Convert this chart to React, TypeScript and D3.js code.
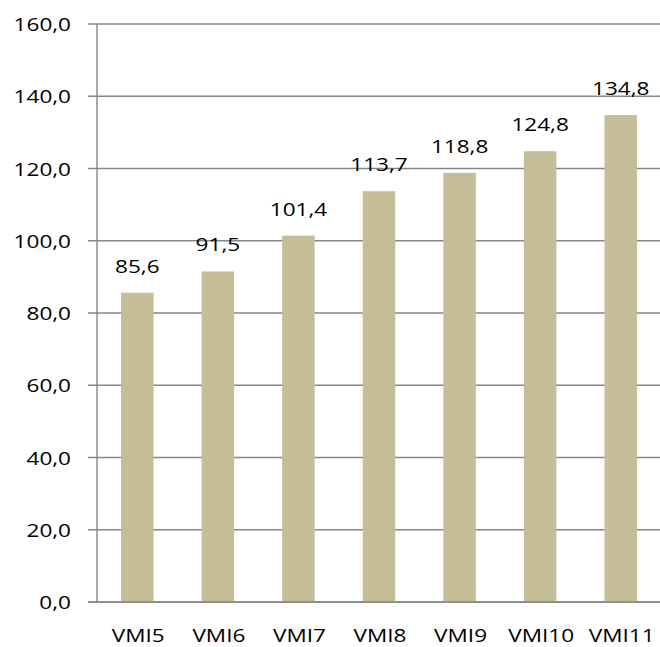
import React from "react";
import * as d3 from "d3";

const categories = ["VMI5", "VMI6", "VMI7", "VMI8", "VMI9", "VMI10", "VMI11"];
const values = [85.6, 91.5, 101.4, 113.7, 118.8, 124.8, 134.8];
const yTicks = [0, 20, 40, 60, 80, 100, 120, 140, 160];

const W = 660;
const H = 647;
const left = 97;
const right = 661;
const top = 24;
const bottom = 602;
const FONT = "'Open Sans', sans-serif";
const FS = 18.8;
const SX = 1.2;
const GRID = "#868686";
const BAR = "#C4BD97";

const fmt = (v: number) => v.toFixed(1).replace(".", ",");

export default function App() {
  const x = d3.scaleBand<string>().domain(categories).range([left, right]);
  const y = d3.scaleLinear().domain([0, 160]).range([bottom, top]);
  const step = x.step();
  const bw = 32.5;

  return (
    <svg width={W} height={H} style={{ position: "absolute", left: 0, top: 0 }}>
      <rect width={W} height={H} fill="#fff" />
      {yTicks.map((t) => (
        <g key={t}>
          <line x1={88} x2={W} y1={y(t)} y2={y(t)} stroke={GRID} strokeWidth={1.4} />
          <text
            transform={`translate(71,${y(t) + 7}) scale(${SX},1)`}
            textAnchor="end"
            fontFamily={FONT}
            fontSize={FS}
            fill="#000"
          >
            {fmt(t)}
          </text>
        </g>
      ))}
      <line x1={left} x2={left} y1={top} y2={bottom} stroke={GRID} strokeWidth={1.4} />
      {categories.map((c, i) => {
        const cx = (x(c) as number) + step / 2;
        const v = values[i];
        return (
          <g key={c}>
            <rect x={cx - bw / 2} y={y(v)} width={bw} height={bottom - y(v)} fill={BAR} />
            <text
              transform={`translate(${cx},${y(v) - 20}) scale(${SX},1)`}
              textAnchor="middle"
              fontFamily={FONT}
              fontSize={FS}
              fill="#000"
            >
              {fmt(v)}
            </text>
            <text
              transform={`translate(${cx + 1},${641.5}) scale(${SX},1)`}
              textAnchor="middle"
              fontFamily={FONT}
              fontSize={FS}
              fill="#000"
            >
              {c}
            </text>
          </g>
        );
      })}
      <line x1={88} x2={W} y1={bottom} y2={bottom} stroke={GRID} strokeWidth={1.4} />
    </svg>
  );
}
